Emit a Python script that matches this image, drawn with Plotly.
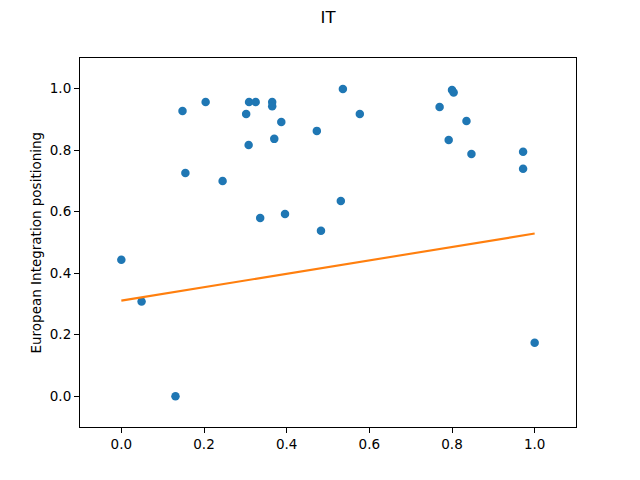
import numpy as np
import plotly.graph_objects as go

title_text = "IT"
y_label = "European Integration positioning"

x_vals = [0.148, 0.204, 0.309, 0.325, 0.365, 0.365, 0.302, 0.387, 0.473, 0.370,
          0.308, 0.155, 0.245, 0.336, 0.396, 0.483, 0.536, 0.577, 0.531, 0.800,
          0.804, 0.770, 0.835, 0.792, 0.847, 0.972, 0.972, 0.000, 0.049, 0.131, 1.000]
y_vals = [0.928, 0.957, 0.957, 0.957, 0.957, 0.943, 0.918, 0.892, 0.863, 0.837,
          0.817, 0.726, 0.700, 0.580, 0.593, 0.538, 0.999, 0.918, 0.635, 0.996,
          0.988, 0.941, 0.895, 0.833, 0.788, 0.795, 0.740, 0.444, 0.308, 0.000, 0.174]

fit_intercept = 0.311
fit_slope = 0.218

tick_vals = [0.0, 0.2, 0.4, 0.6, 0.8, 1.0]
tick_text = ["0.0", "0.2", "0.4", "0.6", "0.8", "1.0"]

xs = np.array(x_vals)
order = np.argsort(xs)
fit_x = xs[order]
fit_y = fit_intercept + fit_slope * fit_x

fig = go.Figure()
fig.add_trace(go.Scatter(x=x_vals, y=y_vals, mode="markers",
                         marker=dict(color="#1f77b4", size=8.5, line=dict(width=0)),
                         showlegend=False))
fig.add_trace(go.Scatter(x=fit_x, y=fit_y, mode="lines",
                         line=dict(color="#ff7f0e", width=2.1),
                         showlegend=False))

axis_common = dict(
    showgrid=False, zeroline=False, showline=True, mirror=True,
    linecolor="black", linewidth=1.1, ticks="outside", ticklen=5,
    tickwidth=1.1, tickcolor="black", tickvals=tick_vals, ticktext=tick_text,
    tickfont=dict(family="DejaVu Sans", size=13.5, color="black"),
)

fig.update_layout(
    width=640, height=480,
    paper_bgcolor="white", plot_bgcolor="white",
    margin=dict(l=72, r=72, t=50, b=61),
    xaxis=dict(range=[-0.1, 1.1], **axis_common),
    yaxis=dict(range=[-0.1, 1.1], **axis_common),
    title=dict(text=title_text, x=0.5, xref="paper", y=1 - 9 / 480, yref="container",
               xanchor="center", yanchor="middle",
               font=dict(family="DejaVu Sans", size=16.5, color="black")),
    annotations=[dict(text=y_label, xref="paper", yref="paper",
                      x=(35 - 80) / 496, y=0.5, xanchor="center", yanchor="middle",
                      textangle=-90, showarrow=False,
                      font=dict(family="DejaVu Sans", size=13.5, color="black"))],
)

fig.write_html("out.html")
